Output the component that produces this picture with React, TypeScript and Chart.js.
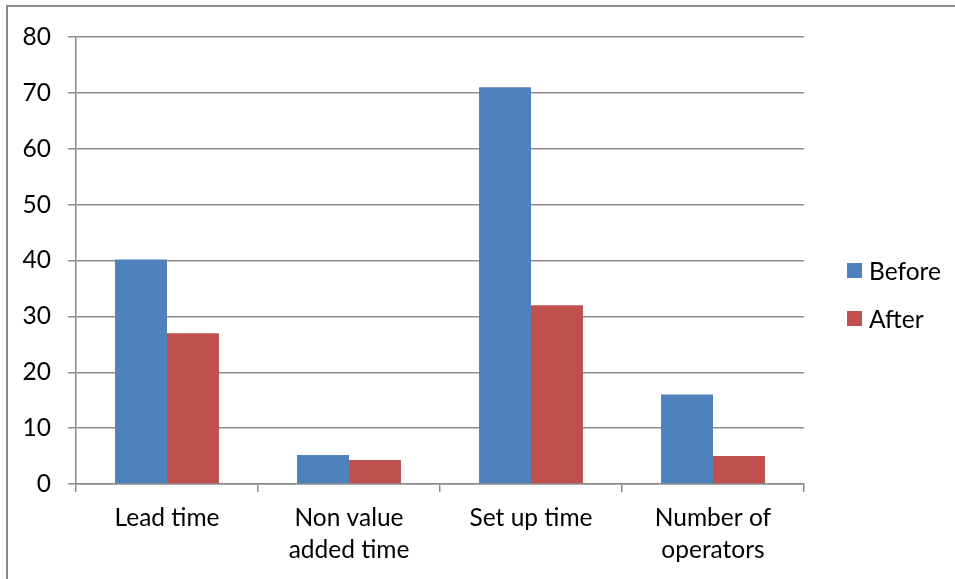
import React, { useEffect, useRef } from "react";
import { Chart, registerables } from "chart.js";

Chart.register(...registerables);

const categories: string[][] = [
  ["Lead time"],
  ["Non value", "added time"],
  ["Set up time"],
  ["Number of", "operators"],
];
const beforeValues = [40.2, 5.2, 71, 16];
const afterValues = [27, 4.3, 32, 5];
const seriesNames = ["Before", "After"];
const seriesColors = ["#4F81BD", "#C0504D"];
const yTicks = [0, 10, 20, 30, 40, 50, 60, 70, 80];

const FONT = "Lato, 'Open Sans', sans-serif";
const GRID = "#8c8c8c";

export default function App() {
  const ref = useRef<HTMLCanvasElement | null>(null);

  useEffect(() => {
    if (!ref.current) return;
    const chart = new Chart(ref.current, {
      type: "bar",
      data: {
        labels: categories,
        datasets: [
          {
            label: seriesNames[0],
            data: beforeValues,
            backgroundColor: seriesColors[0],
            borderWidth: 0,
            categoryPercentage: 0.571,
            barPercentage: 1,
          },
          {
            label: seriesNames[1],
            data: afterValues,
            backgroundColor: seriesColors[1],
            borderWidth: 0,
            categoryPercentage: 0.571,
            barPercentage: 1,
          },
        ],
      },
      options: {
        animation: false,
        responsive: false,
        maintainAspectRatio: false,
        layout: { padding: { top: 37, right: 151, left: 0, bottom: 0 } },
        plugins: {
          legend: { display: false },
          tooltip: { enabled: false },
        },
        scales: {
          x: {
            offset: true,
            grid: {
              offset: true,
              drawOnChartArea: false,
              drawTicks: true,
              tickLength: 8,
              color: GRID,
              lineWidth: 1.5,
            },
            border: { display: true, color: GRID, width: 1.5 },
            ticks: {
              color: "#000",
              font: { family: FONT, size: 24.5, lineHeight: 1.31 },
              padding: 10,
              maxRotation: 0,
              autoSkip: false,
            },
            afterFit: (scale: any) => {
              scale.height = 95;
            },
          },
          y: {
            min: 0,
            max: 80,
            afterBuildTicks: (scale: any) => {
              scale.ticks = yTicks.map((v) => ({ value: v }));
            },
            grid: {
              drawOnChartArea: true,
              drawTicks: true,
              tickLength: 8,
              color: GRID,
              lineWidth: 1.5,
            },
            border: { display: true, color: GRID, width: 1.5 },
            ticks: {
              color: "#000",
              font: { family: FONT, size: 24.5 },
              padding: 17,
            },
            afterFit: (scale: any) => {
              scale.width = 76;
            },
          },
        },
      },
    });
    return () => chart.destroy();
  }, []);

  const legendItem = (i: number, top: number) => (
    <div
      key={i}
      style={{
        position: "absolute",
        left: 847,
        top: top,
        display: "flex",
        alignItems: "center",
        fontFamily: FONT,
        fontSize: 24.5,
        color: "#000",
        height: 30,
      }}
    >
      <span
        style={{
          display: "inline-block",
          width: 15,
          height: 15,
          background: seriesColors[i],
          marginRight: 7,
        }}
      />
      <span>{seriesNames[i]}</span>
    </div>
  );

  return (
    <div
      style={{
        position: "fixed",
        left: 0,
        top: 0,
        width: 955,
        height: 579,
        background: "#fff",
        overflow: "hidden",
      }}
    >
      <div
        style={{
          position: "absolute",
          left: 6,
          top: 5,
          width: 960,
          height: 600,
          borderTop: "2px solid #8a8a8a",
          borderLeft: "2px solid #8a8a8a",
        }}
      />
      <canvas
        ref={ref}
        width={955}
        height={579}
        style={{ position: "absolute", left: 0, top: 0, width: 955, height: 579 }}
      />
      {legendItem(0, 255)}
      {legendItem(1, 303)}
    </div>
  );
}
